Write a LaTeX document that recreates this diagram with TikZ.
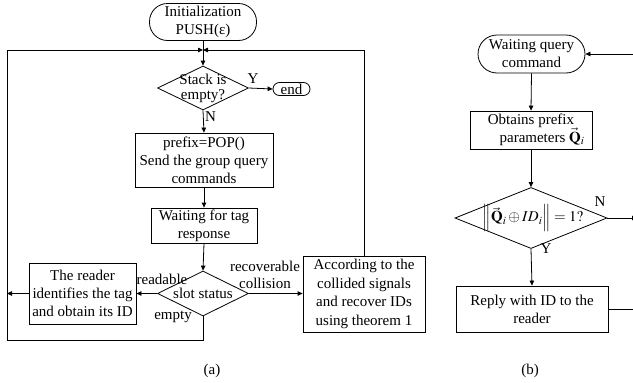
\documentclass[tikz,border=0pt]{standalone}
\usepackage{mathptmx}
\usepackage{fontspec}
\setmainfont{Liberation Serif}
\usetikzlibrary{arrows.meta,shapes.geometric}
\begin{document}
\begin{tikzpicture}[x=1pt,y=-1pt,
  every node/.style={font=\fontsize{15}{18}\selectfont, inner sep=0pt, align=center},
  ln/.style={line width=0.8pt},
  arr/.style={ln, -{Triangle[length=5pt,width=4.5pt]}},
  box/.style={draw, ln},
  term/.style={draw, ln, rounded corners=#1},
  dia/.style={draw, ln, shape=diamond, inner sep=0pt},
  lbl/.style={font=\fontsize{15}{17}\selectfont}
]
\useasboundingbox (0,0) rectangle (633,383);
\clip (0,0) rectangle (633,383);

% ---------- (a) ----------
\node[term=18pt, minimum width=107pt, minimum height=37pt] (init) at (203,22) {Initialization\\PUSH(ε)};
\coordinate (j) at (203,50);
\node[dia, minimum width=91pt, minimum height=44pt] (s1) at (203,88) {};
\node[font=\fontsize{15}{15}\selectfont] (s1t) at (203,88) {Stack is\\empty?};
\node[term=6.5pt, minimum width=37pt, minimum height=13pt] (end) at (291.5,89) {end};
\node[box, minimum width=138pt, minimum height=54pt] (prefix) at (204,160) {prefix=POP()\\Send the group query\\commands};
\node[box, minimum width=106pt, minimum height=35pt] (wait) at (204,225.5) {Waiting for tag\\response};
\node[dia, minimum width=91pt, minimum height=45pt] (slot) at (203,293.5) {};
\node (slott) at (203,293.5) {slot status};
\node[box, minimum width=107pt, minimum height=61pt] (reader) at (82.5,293.5) {The reader\\identifies the tag\\and obtain its ID};
\node[box, minimum width=122pt, minimum height=76pt, font=\fontsize{15}{18.5}\selectfont] (recov) at (364,294) {According to the\\collided signals\\and recover IDs\\using theorem 1};
\coordinate (lft) at (7,340);

\node[lbl] (yl) at (253,79) {Y};
\node[lbl, anchor=west] (nl) at (205,117) {N};
\node[lbl] (readl) at (162,279) {readable};
\node[lbl] (emptyl) at (173,317) {empty};
\node[lbl] (recl) at (265,274.5) {recoverable\\collision};

\draw[arr] (init.south) -- (s1.north);
\draw[arr] (s1.east) -- (end.west);
\draw[arr] (s1.south) -- (prefix.north);
\draw[arr] (prefix.south) -- (wait.north);
\draw[arr] (wait.south) -- (slot.north);
\draw[arr] (slot.west) -- (reader.east |- slot.west);
\draw[arr] (slot.east) -- (recov.west |- slot.east);
\draw[arr] (reader.west |- slot.west) -- (lft |- slot.west);
\draw[arr] (slot.south) |- (lft) |- (j);
\draw[arr] (recov.north) |- (j);

\node (capa) at (212,371) {(a)};

% ---------- (b) ----------
\node[term=19pt, minimum width=107pt, minimum height=38pt] (wq) at (531.5,54) {Waiting query\\command};
\coordinate (inr) at (633,54);
\node[box, minimum width=122pt, minimum height=38pt] (obt) at (531,130) {Obtains prefix\\\hspace*{22pt}parameters $\vec{\mathbf{Q}}_i$};
\node[dia, minimum width=152pt, minimum height=61pt] (d2) at (531,218) {};
\node (d2t) at (533,218) {$\left\|\vec{\mathbf{Q}}_i\oplus ID_i\right\|=1?$};
\coordinate (outr) at (637,218);
\node[box, minimum width=152pt, minimum height=46pt] (reply) at (532,309) {Reply with ID to the\\reader};
\coordinate (rr) at (634,309);

\node[lbl] (n2) at (600,202) {N};
\node[lbl] (y2) at (546,249) {Y};

\draw[arr] (inr) -- (wq.east);
\draw[arr] (wq.south) -- (obt.north);
\draw[arr] (obt.south) -- (d2.north);
\draw[arr] (d2.east) -- (outr);
\draw[arr] (d2.south) -- (reply.north);
\draw[ln] (reply.east) -- (rr);

\node (capb) at (530,371) {(b)};
\end{tikzpicture}
\end{document}
